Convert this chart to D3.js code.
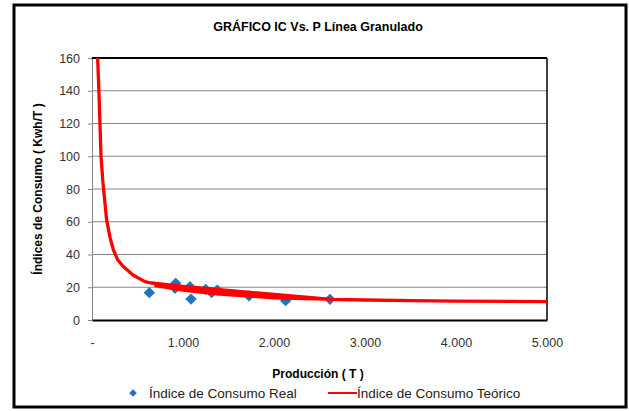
<!DOCTYPE html>
<html>
<head>
<meta charset="utf-8">
<script src="https://cdn.jsdelivr.net/npm/d3@7"></script>
<style>
  body { margin: 0; background: #fff; }
  text { font-family: "Liberation Sans", Arial, sans-serif; }
</style>
</head>
<body>
<div id="chart"></div>
<script>
// real consumption index
const realP  = [630, 920, 912, 1077, 1088, 1249, 1315, 1377, 1725, 2128, 2615];
const realIC = [16.7, 22.4, 19.4, 20.3, 12.8, 18.7, 16.7, 18.3, 14.7, 11.8, 12.6];

// theoretical index, in the order the series is drawn (unsorted middle part makes the thick band)
const teoP  = [50, 62, 77, 99, 120, 161, 200, 234, 280, 344, 450, 582, 650, 1000, 1400, 2000, 2600, 2000, 1400, 1000, 700, 1000, 1400, 2000, 2600, 3000, 3500, 4000, 5000];
const teoIC = [190, 160, 138, 100, 84, 61, 50, 43, 37, 32.6, 27.5, 23.4, 22.6, 20.6, 18.6, 15.6, 12.8, 13.6, 15.8, 18.2, 21.0, 19.4, 17.2, 14.6, 12.6, 12.2, 11.8, 11.5, 11.2];

const xTicks = [0, 1000, 2000, 3000, 4000, 5000];
const yTicks = [0, 20, 40, 60, 80, 100, 120, 140, 160];

const title = "GRÁFICO IC Vs. P Línea Granulado";
const xTitle = "Producción ( T )";
const yTitle = "Índices de Consumo ( Kwh/T )";
const legendNames = ["Índice de Consumo Real", "Índice de Consumo Teórico"];

const width = 629, height = 411;
const margin = {top: 58, right: 82, bottom: 91, left: 92};

const svg = d3.select("#chart").append("svg")
    .attr("width", width)
    .attr("height", height);

// outer frame
svg.append("rect")
    .attr("x", 14).attr("y", 5)
    .attr("width", 612).attr("height", 402)
    .attr("fill", "#fff")
    .attr("stroke", "#000")
    .attr("stroke-width", 3);

let xScale = d3.scaleLinear()
    .domain([0, 5000])
    .range([margin.left, width - margin.right]);

let yScale = d3.scaleLinear()
    .domain([0, 160])
    .range([height - margin.bottom, margin.top]);

// gridlines
svg.append("g")
    .selectAll("line")
    .data(yTicks.filter(d => d > 0 && d < 160))
    .enter().append("line")
    .attr("x1", xScale(0)).attr("x2", xScale(5000))
    .attr("y1", d => yScale(d)).attr("y2", d => yScale(d))
    .attr("stroke", "#868686")
    .attr("stroke-width", 1);

// y axis
const yAxis = d3.axisLeft(yScale)
    .tickValues(yTicks)
    .tickSize(4)
    .tickSizeOuter(0)
    .tickPadding(8);
const yg = svg.append("g")
    .attr("transform", "translate(" + xScale(0) + ",0)")
    .call(yAxis);
yg.select(".domain").attr("stroke", "#868686");
yg.selectAll(".tick line").attr("stroke", "#868686");
yg.selectAll("text")
    .attr("font-size", "12.5px")
    .attr("fill", "#333")
    .style("font-family", "'Liberation Sans', Arial, sans-serif");

// plot frame: top, right black; bottom axis black
svg.append("line")
    .attr("x1", xScale(0)).attr("x2", xScale(5000))
    .attr("y1", yScale(160)).attr("y2", yScale(160))
    .attr("stroke", "#000").attr("stroke-width", 2);
svg.append("line")
    .attr("x1", xScale(5000)).attr("x2", xScale(5000))
    .attr("y1", yScale(160)).attr("y2", yScale(0))
    .attr("stroke", "#000").attr("stroke-width", 1.5);

// x axis
const xAxis = d3.axisBottom(xScale)
    .tickValues(xTicks)
    .tickSize(0)
    .tickPadding(18)
    .tickFormat(d => d === 0 ? "-" : d3.format(",")(d).replace(/,/g, "."));
const xg = svg.append("g")
    .attr("transform", "translate(0," + yScale(0) + ")")
    .call(xAxis);
xg.select(".domain").attr("stroke", "#000").attr("stroke-width", 2);
xg.selectAll("text")
    .attr("font-size", "12.5px")
    .attr("fill", "#333")
    .style("font-family", "'Liberation Sans', Arial, sans-serif");

// clip for the theoretical line
svg.append("clipPath").attr("id", "plotclip")
    .append("rect")
    .attr("x", xScale(0)).attr("y", yScale(160))
    .attr("width", xScale(5000) - xScale(0))
    .attr("height", yScale(0) - yScale(160));

const teo = teoP.map((p, i) => ({p: p, ic: teoIC[i]}));
const real = realP.map((p, i) => ({p: p, ic: realIC[i]}));

const line = d3.line()
    .x(d => xScale(d.p))
    .y(d => yScale(d.ic))
    .curve(d3.curveLinear);

// excel-style diamond = rotated square
const diamond = d3.symbol().type(d3.symbolSquare).size(64);

// real points drawn under the line
svg.append("g")
    .selectAll("path")
    .data(real)
    .enter().append("path")
    .attr("d", diamond)
    .attr("transform", d => "translate(" + xScale(d.p) + "," + yScale(d.ic) + ") rotate(45)")
    .attr("fill", "#1f74c2");

svg.append("path")
    .datum(teo)
    .attr("clip-path", "url(#plotclip)")
    .attr("d", line)
    .attr("fill", "none")
    .attr("stroke", "#ff0000")
    .attr("stroke-width", 3.3)
    .attr("stroke-linejoin", "round");

// titles
svg.append("text")
    .attr("x", 318).attr("y", 31)
    .attr("text-anchor", "middle")
    .attr("font-weight", "bold")
    .attr("font-size", "12.5px")
    .text(title);

svg.append("text")
    .attr("x", 318).attr("y", 378)
    .attr("text-anchor", "middle")
    .attr("font-weight", "bold")
    .attr("font-size", "12px")
    .text(xTitle);

svg.append("text")
    .attr("transform", "translate(42," + ((yScale(0) + yScale(160)) / 2) + ") rotate(-90)")
    .attr("text-anchor", "middle")
    .attr("font-weight", "bold")
    .attr("font-size", "12px")
    .text(yTitle);

// legend
const lg = svg.append("g");
lg.append("path")
    .attr("d", d3.symbol().type(d3.symbolSquare).size(28))
    .attr("transform", "translate(133,393) rotate(45)")
    .attr("fill", "#1f74c2");
lg.append("text")
    .attr("x", 149).attr("y", 398)
    .attr("font-size", "13.5px")
    .attr("fill", "#222")
    .text(legendNames[0]);
lg.append("line")
    .attr("x1", 328).attr("x2", 357)
    .attr("y1", 393).attr("y2", 393)
    .attr("stroke", "#ff0000").attr("stroke-width", 2);
lg.append("text")
    .attr("x", 357).attr("y", 398)
    .attr("font-size", "13.5px")
    .attr("fill", "#222")
    .text(legendNames[1]);
</script>
</body>
</html>
